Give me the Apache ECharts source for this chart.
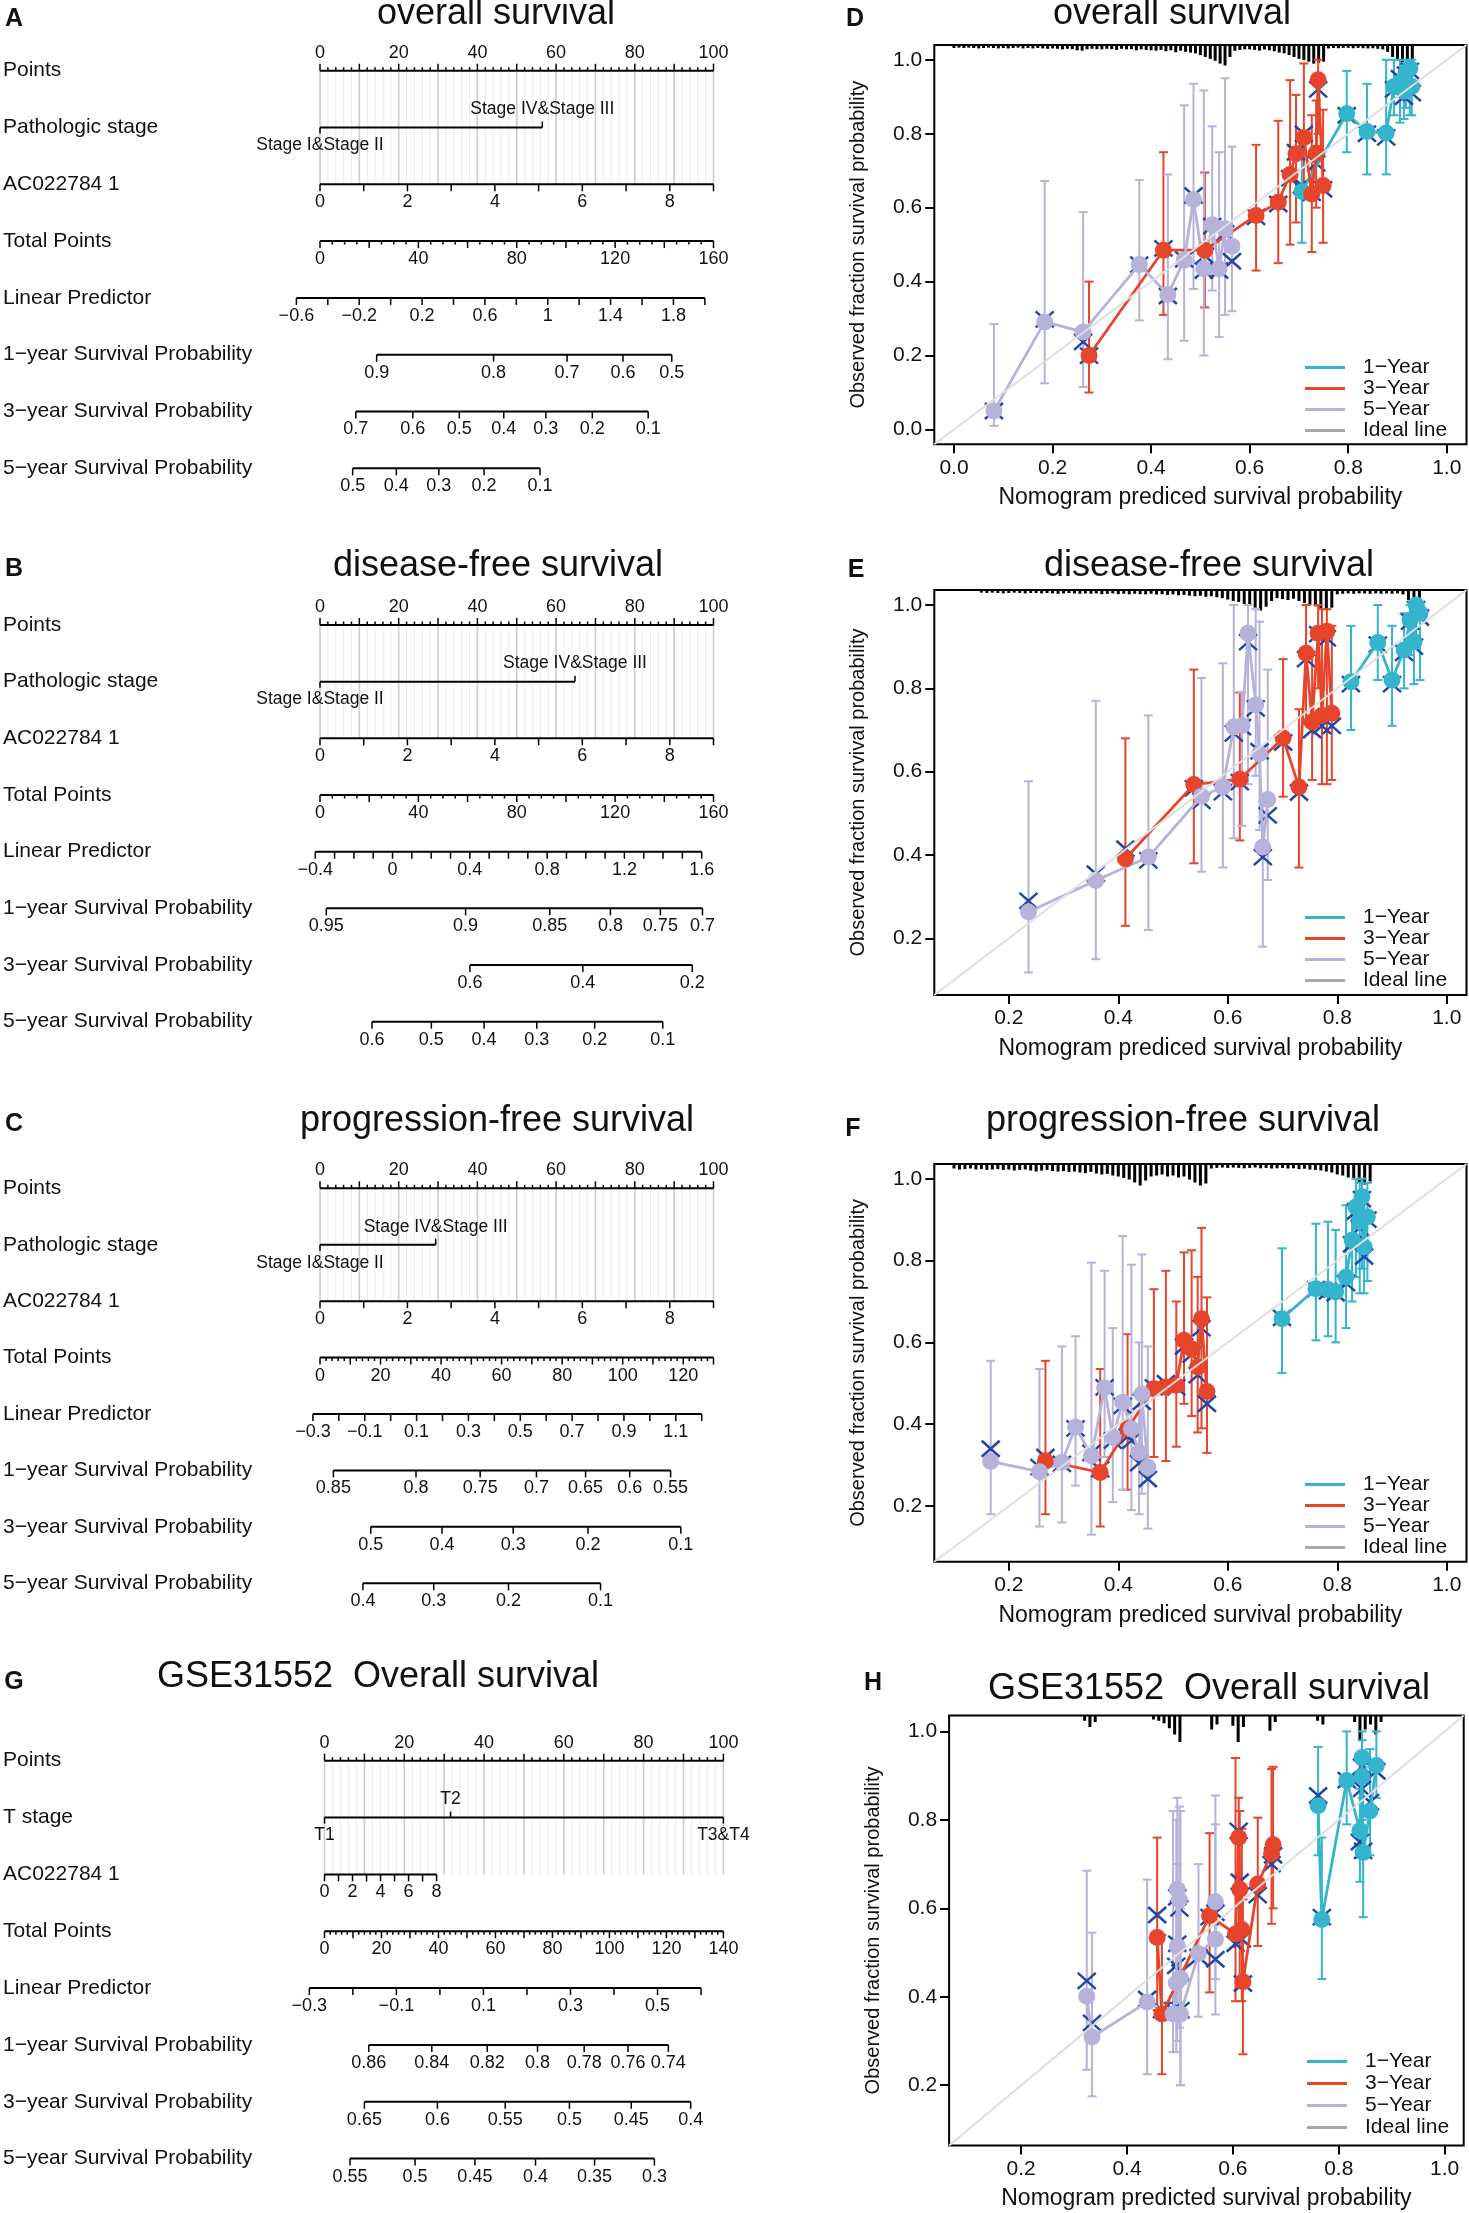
<!DOCTYPE html>
<html>
<head>
<meta charset="utf-8">
<title>Nomograms and calibration curves</title>
<script src="https://cdn.jsdelivr.net/npm/echarts@6.0.0/dist/echarts.min.js"></script>
<style>
  html, body { margin: 0; padding: 0; background: #fff; }
  #main { width: 1469px; height: 2213px; }
</style>
</head>
<body>
<div id="main"></div>
<script>
const FONT = '"Liberation Sans", Arial, Helvetica, sans-serif';
const MINUS = '\u2212';

// ---------------- nomogram data (positions in "Points" units) ----------------
const rowNames = ['Points', 'Pathologic stage', 'AC022784 1', 'Total Points', 'Linear Predictor',
  '1' + MINUS + 'year Survival Probability', '3' + MINUS + 'year Survival Probability',
  '5' + MINUS + 'year Survival Probability'];
const rowNamesG = ['Points', 'T stage'].concat(rowNames.slice(2));

// A: overall survival
const aStageLabels = ['Stage I&Stage II', 'Stage IV&Stage III'];
const aStagePoints = [0, 56.5];
const aStageAbove = [false, true];
const aLpRange = [-0.6, 2.0];
const aLpPoints = [-6.0, 97.8];
const a1yLabels = [0.9, 0.8, 0.7, 0.6, 0.5];
const a1yPoints = [14.4, 44.1, 62.8, 77.0, 89.4];
const a3yLabels = [0.7, 0.6, 0.5, 0.4, 0.3, 0.2, 0.1];
const a3yPoints = [9.1, 23.6, 35.4, 46.7, 57.4, 69.2, 83.4];
const a5yLabels = [0.5, 0.4, 0.3, 0.2, 0.1];
const a5yPoints = [8.3, 19.4, 30.2, 41.7, 55.9];

// B: disease-free survival
const bStageLabels = ['Stage I&Stage II', 'Stage IV&Stage III'];
const bStagePoints = [0, 64.8];
const bStageAbove = [false, true];
const bLpRange = [-0.4, 1.6];
const bLpPoints = [-1.2, 97.0];
const b1yLabels = [0.95, 0.9, 0.85, 0.8, 0.75, 0.7];
const b1yPoints = [1.6, 37.0, 58.4, 73.8, 86.5, 97.2];
const b3yLabels = [0.6, 0.4, 0.2];
const b3yPoints = [38.1, 66.8, 94.6];
const b5yLabels = [0.6, 0.5, 0.4, 0.3, 0.2, 0.1];
const b5yPoints = [13.2, 28.3, 41.7, 55.1, 69.8, 87.1];

// C: progression-free survival
const cStageLabels = ['Stage I&Stage II', 'Stage IV&Stage III'];
const cStagePoints = [0, 29.4];
const cStageAbove = [false, true];
const cLpRange = [-0.3, 1.2];
const cLpPoints = [-1.8, 97.0];
const c1yLabels = [0.85, 0.8, 0.75, 0.7, 0.65, 0.6, 0.55];
const c1yPoints = [3.4, 24.4, 40.7, 55.0, 67.5, 78.7, 89.1];
const c3yLabels = [0.5, 0.4, 0.3, 0.2, 0.1];
const c3yPoints = [12.9, 31.0, 49.1, 68.1, 91.7];
const c5yLabels = [0.4, 0.3, 0.2, 0.1];
const c5yPoints = [10.9, 28.9, 47.9, 71.3];

// G: GSE31552 overall survival
const gStageLabels = ['T1', 'T2', 'T3&T4'];
const gStagePoints = [0, 31.6, 100];
const gStageAbove = [false, true, false];
const gAcRange = [0, 8];
const gAcPoints = [0, 28.1];
const gLpRange = [-0.3, 0.6];
const gLpPoints = [-3.8, 94.4];
const g1yLabels = [0.86, 0.84, 0.82, 0.8, 0.78, 0.76, 0.74];
const g1yPoints = [11.1, 26.9, 40.8, 53.4, 65.1, 76.1, 86.2];
const g3yLabels = [0.65, 0.6, 0.55, 0.5, 0.45, 0.4];
const g3yPoints = [10.0, 28.3, 45.3, 61.4, 76.9, 91.8];
const g5yLabels = [0.55, 0.5, 0.45, 0.4, 0.35, 0.3];
const g5yPoints = [6.4, 22.7, 37.7, 52.9, 67.7, 82.7];

// ---------------- calibration data ----------------
const dTicks = [0, 0.2, 0.4, 0.6, 0.8, 1.0];
const efhTicks = [0.2, 0.4, 0.6, 0.8, 1.0];

// D overall survival
const d1x = [0.706, 0.797, 0.838, 0.877, 0.893, 0.905, 0.913, 0.917, 0.925, 0.929];
const d1y = [0.644, 0.854, 0.806, 0.802, 0.928, 0.937, 0.915, 0.964, 0.977, 0.928];
const d1lo = [0.505, 0.75, 0.69, 0.69, 0.85, 0.83, 0.84, 0.87, 0.85, 0.85];
const d1hi = [0.76, 0.97, 0.935, 1.0, 1.0, 1.0, 0.99, 1.0, 1.0, 1.0];
const d1bc = [0.66, 0.85, 0.80, 0.79, 0.92, 0.95, 0.90, 0.96, 0.97, 0.91];
const d3x = [0.274, 0.425, 0.509, 0.613, 0.658, 0.682, 0.694, 0.710, 0.726, 0.735, 0.739, 0.749];
const d3y = [0.200, 0.485, 0.485, 0.579, 0.615, 0.690, 0.746, 0.790, 0.637, 0.748, 0.946, 0.660];
const d3lo = [0.10, 0.31, 0.33, 0.43, 0.45, 0.50, 0.56, 0.63, 0.48, 0.60, 0.80, 0.505];
const d3hi = [0.40, 0.75, 0.695, 0.77, 0.835, 0.945, 0.905, 0.99, 0.85, 0.89, 1.0, 0.865];
const d3bc = [0.20, 0.49, 0.47, 0.575, 0.61, 0.68, 0.75, 0.80, 0.64, 0.72, 0.92, 0.65];
const d5x = [0.081, 0.184, 0.262, 0.376, 0.434, 0.467, 0.486, 0.507, 0.524, 0.538, 0.550, 0.564];
const d5y = [0.050, 0.291, 0.264, 0.446, 0.365, 0.458, 0.622, 0.435, 0.554, 0.435, 0.543, 0.496];
const d5lo = [0.01, 0.125, 0.115, 0.295, 0.19, 0.24, 0.38, 0.20, 0.376, 0.25, 0.31, 0.32];
const d5hi = [0.285, 0.672, 0.588, 0.675, 0.69, 0.877, 0.935, 0.917, 0.82, 0.75, 0.95, 0.765];
const d5bc = [0.05, 0.298, 0.237, 0.446, 0.361, 0.46, 0.633, 0.43, 0.55, 0.43, 0.53, 0.455];
const dHistStart = 0.0;
const dHist = [
  .08, .06, .08, .06, .08, .1, .08, .06, .08, .1,
  .08, .1, .08, .06, .1, .08, .1, .08, .1, .12,
  .1, .12, .15, .12, .14, .2, .22, .15, .12, .14,
  .15, .12, .14, .18, .12, .15, .14, .2, .15, .18,
  .2, .22, .18, .25, .2, .3, .22, .28, .32, .36,
  .45, .55, .65, .75, .9, 1, .55, .22, .18, .15,
  .15, .18, .22, .16, .2, .25, .32, .36, .45, .55,
  .65, .72, .8, .9, .85, .8, .1, .08, .09, .07,
  .07, .09, .07, .09, .1, .09, .12, .15, .28, .55,
  .72, .82, .9, .72];

// E disease-free survival
const e1x = [0.825, 0.874, 0.900, 0.922, 0.933, 0.940, 0.944, 0.951];
const e1y = [0.816, 0.910, 0.820, 0.892, 0.964, 0.912, 1.0, 0.98];
const e1lo = [0.70, 0.82, 0.71, 0.80, 0.88, 0.81, 0.90, 0.82];
const e1hi = [0.95, 1.0, 0.95, 0.98, 1.0, 1.0, 1.0, 1.0];
const e1bc = [0.81, 0.905, 0.81, 0.885, 0.96, 0.90, 0.99, 0.97];
const e3x = [0.413, 0.538, 0.622, 0.701, 0.730, 0.743, 0.754, 0.765, 0.772, 0.781, 0.790];
const e3y = [0.391, 0.569, 0.582, 0.681, 0.563, 0.884, 0.719, 0.932, 0.735, 0.937, 0.740];
const e3lo = [0.23, 0.38, 0.435, 0.54, 0.37, 0.72, 0.58, 0.80, 0.57, 0.57, 0.58];
const e3hi = [0.68, 0.845, 0.79, 0.87, 0.75, 1.0, 0.88, 1.0, 0.99, 0.99, 0.95];
const e3bc = [0.415, 0.56, 0.575, 0.67, 0.55, 0.87, 0.70, 0.93, 0.71, 0.92, 0.71];
const e5x = [0.236, 0.359, 0.455, 0.552, 0.591, 0.611, 0.626, 0.637, 0.651, 0.658, 0.664, 0.673];
const e5y = [0.263, 0.339, 0.395, 0.541, 0.563, 0.707, 0.711, 0.932, 0.760, 0.643, 0.419, 0.533];
const e5lo = [0.118, 0.15, 0.22, 0.36, 0.37, 0.44, 0.47, 0.57, 0.59, 0.46, 0.18, 0.34];
const e5hi = [0.577, 0.77, 0.735, 0.825, 0.86, 1.0, 0.79, 1.0, 0.99, 0.96, 0.53, 0.845];
const e5bc = [0.29, 0.355, 0.387, 0.53, 0.551, 0.692, 0.707, 0.911, 0.752, 0.649, 0.395, 0.495];
const eHistStart = 0.15;
const eHist = [
  .06, .08, .06, .08, .1, .08, .06, .08, .1, .08,
  .08, .1, .08, .1, .12, .1, .08, .1, .12, .1,
  .12, .1, .14, .12, .1, .14, .12, .15, .12, .14,
  .15, .12, .16, .14, .18, .15, .2, .18, .22, .25,
  .22, .28, .25, .3, .35, .42, .5, .55, .65, .72,
  .85, 1, .8, .5, .35, .4, .45, .38, .5, .6,
  .7, .78, .9, .95, .85, .15, .12, .1, .12, .1,
  .1, .12, .1, .12, .1, .12, .1, .15, .45, .6, .5];

// F progression-free survival
const f1x = [0.699, 0.761, 0.783, 0.797, 0.816, 0.827, 0.834, 0.841, 0.845, 0.849, 0.855];
const f1y = [0.658, 0.731, 0.729, 0.723, 0.760, 0.850, 0.931, 0.895, 0.956, 0.833, 0.907];
const f1lo = [0.525, 0.605, 0.615, 0.60, 0.635, 0.70, 0.76, 0.72, 0.78, 0.72, 0.75];
const f1hi = [0.83, 0.89, 0.895, 0.875, 0.935, 0.94, 1.0, 0.99, 1.0, 0.96, 0.99];
const f1bc = [0.66, 0.73, 0.725, 0.72, 0.745, 0.84, 0.92, 0.88, 0.95, 0.81, 0.90];
const f3x = [0.267, 0.367, 0.417, 0.465, 0.487, 0.506, 0.520, 0.534, 0.545, 0.552, 0.562];
const f3y = [0.311, 0.282, 0.389, 0.487, 0.491, 0.495, 0.605, 0.584, 0.540, 0.658, 0.480];
const f3lo = [0.18, 0.15, 0.24, 0.32, 0.31, 0.345, 0.45, 0.42, 0.38, 0.39, 0.33];
const f3hi = [0.555, 0.535, 0.62, 0.73, 0.775, 0.70, 0.82, 0.825, 0.76, 0.88, 0.71];
const f3bc = [0.32, 0.29, 0.37, 0.49, 0.50, 0.49, 0.59, 0.57, 0.52, 0.635, 0.45];
const f5x = [0.167, 0.256, 0.297, 0.322, 0.351, 0.375, 0.390, 0.408, 0.424, 0.438, 0.443, 0.454];
const f5y = [0.309, 0.284, 0.307, 0.393, 0.323, 0.489, 0.368, 0.454, 0.389, 0.331, 0.474, 0.295];
const f5lo = [0.18, 0.15, 0.16, 0.25, 0.13, 0.32, 0.21, 0.24, 0.19, 0.18, 0.23, 0.145];
const f5hi = [0.555, 0.535, 0.59, 0.615, 0.795, 0.775, 0.635, 0.86, 0.79, 0.60, 0.815, 0.59];
const f5bc = [0.34, 0.295, 0.303, 0.39, 0.33, 0.49, 0.36, 0.445, 0.36, 0.305, 0.455, 0.266];
const fHistStart = 0.10;
const fHist = [
  .15, .2, .18, .15, .2, .18, .22, .2, .18, .22,
  .2, .25, .22, .2, .25, .3, .25, .22, .28, .3,
  .28, .32, .3, .35, .38, .32, .4, .45, .42, .5,
  .55, .62, .7, .85, 1, .75, .55, .5, .45, .55,
  .5, .6, .55, .7, .85, 1, .9, .15, .12, .1,
  .12, .1, .12, .14, .12, .1, .14, .12, .15, .14,
  .12, .15, .14, .18, .16, .2, .22, .25, .3, .35,
  .45, .5, .6, .7, .85, .95, .8];

// H GSE31552 overall survival
const h1x = [0.761, 0.768, 0.815, 0.840, 0.844, 0.844, 0.846, 0.859, 0.871];
const h1y = [0.832, 0.575, 0.889, 0.776, 0.941, 0.898, 0.726, 0.820, 0.923];
const h1lo = [0.72, 0.44, 0.79, 0.66, 0.85, 0.80, 0.58, 0.72, 0.85];
const h1hi = [0.965, 0.76, 1.0, 0.87, 1.0, 0.98, 0.92, 0.96, 1.0];
const h1bc = [0.855, 0.58, 0.89, 0.75, 0.92, 0.87, 0.73, 0.84, 0.91];
const h3x = [0.457, 0.466, 0.556, 0.605, 0.611, 0.613, 0.617, 0.619, 0.647, 0.673, 0.676];
const h3y = [0.534, 0.361, 0.583, 0.542, 0.760, 0.643, 0.552, 0.434, 0.655, 0.724, 0.744];
const h3lo = [0.37, 0.225, 0.41, 0.39, 0.55, 0.44, 0.39, 0.27, 0.515, 0.565, 0.60];
const h3hi = [0.76, 0.54, 0.77, 0.94, 0.85, 0.82, 0.78, 0.62, 0.805, 0.915, 0.92];
const h3bc = [0.585, 0.37, 0.58, 0.52, 0.775, 0.66, 0.53, 0.43, 0.63, 0.70, 0.72];
const h5x = [0.324, 0.334, 0.438, 0.487, 0.493, 0.495, 0.495, 0.499, 0.501, 0.501, 0.535, 0.567, 0.567];
const h5y = [0.401, 0.309, 0.388, 0.361, 0.431, 0.643, 0.514, 0.619, 0.442, 0.361, 0.498, 0.530, 0.615];
const h5lo = [0.235, 0.175, 0.225, 0.275, 0.275, 0.35, 0.30, 0.33, 0.20, 0.20, 0.355, 0.36, 0.44];
const h5hi = [0.685, 0.545, 0.665, 0.82, 0.80, 0.85, 0.70, 0.83, 0.82, 0.60, 0.70, 0.79, 0.855];
const h5bc = [0.436, 0.341, 0.395, 0.37, 0.47, 0.625, 0.52, 0.60, 0.455, 0.37, 0.49, 0.485, 0.59];
const hHistStart = 0.30;
const hHist = [
  0, 0, .15, .4, .2, 0, 0, 0, 0, 0,
  0, 0, 0, 0, 0, .1, .15, .25, .45, .7,
  1, 0, 0, 0, 0, 0, .5, .3, 0, 0,
  .35, 1, .4, 0, 0, 0, 0, .55, .2, 0,
  0, 0, 0, 0, 0, 0, .15, .3, 0, 0,
  0, 0, 0, .2, .95, .5, .3, .7, .2];

// ---------------- helpers ----------------
const isInt = v => Math.abs(v - Math.round(v)) < 1e-6;
const fmt = v => String(Math.round(v * 1000) / 1000).replace('-', MINUS);

function makeRows(o) {
  return [
    { kind: 'scale', min: 0, max: 100, p: [0, 100], minor: 2, major: 10, from: 0, step: 20, up: true, grid: true },
    { kind: 'cat', labels: o.catLabels, points: o.catPoints, above: o.catAbove },
    { kind: 'scale', min: o.ac[0], max: o.ac[1], p: o.acP, minor: 1, major: 1, from: 0, step: 2 },
    { kind: 'scale', min: 0, max: o.total, p: [0, 100], minor: o.totalMinor, major: o.totalMajor, from: 0, step: o.totalStep },
    { kind: 'scale', min: o.lp[0], max: o.lp[1], p: o.lpP, minor: o.lpMinor, major: o.lpMinor, from: o.lp[0], step: o.lpStep },
    { kind: 'prob', labels: o.y1, points: o.y1P },
    { kind: 'prob', labels: o.y3, points: o.y3P },
    { kind: 'prob', labels: o.y5, points: o.y5P }
  ];
}

function nomoRender(rows) {
  return function (params, api) {
    const i = params.dataIndex;
    const r = rows[i];
    const y = api.coord([0, i])[1];
    const X = p => api.coord([p, i])[0];
    const kids = [];
    const line = (x1, y1, x2, y2, stroke, w) =>
      kids.push({ type: 'line', shape: { x1, y1, x2, y2 }, style: { stroke, lineWidth: w } });
    const text = (x, ty, s, size) =>
      kids.push({ type: 'text', x, y: ty, style: { text: s, fill: '#111', fontSize: size, fontFamily: FONT, align: 'center', verticalAlign: 'middle' } });

    if (r.kind === 'scale') {
      const n = Math.round((r.max - r.min) / r.minor);
      const ticks = [];
      for (let k = 0; k <= n; k++) {
        const v = r.min + k * r.minor;
        const p = r.p[0] + (v - r.min) / (r.max - r.min) * (r.p[1] - r.p[0]);
        ticks.push({ x: X(p), v, major: isInt((v - r.from) / r.major), lab: isInt((v - r.from) / r.step) });
      }
      if (r.grid) {
        const yb = api.coord([0, 2])[1];
        ticks.forEach(t => { if (!t.major) line(t.x, y, t.x, yb, '#ebebeb', 1); });
        ticks.forEach(t => { if (t.major) line(t.x, y, t.x, yb, '#cdcdcd', 1.6); });
      }
      line(X(r.p[0]), y, X(r.p[1]), y, '#000', 2);
      const dir = r.up ? -1 : 1;
      ticks.forEach(t => {
        line(t.x, y, t.x, y + dir * (t.major ? 7 : 3.5), '#000', 1.5);
        if (t.lab) text(t.x, y + dir * 18, fmt(t.v), 18);
      });
    } else if (r.kind === 'cat') {
      const xs = r.points.map(X);
      line(Math.min(...xs), y, Math.max(...xs), y, '#000', 2);
      r.labels.forEach((s, k) => {
        const dir = r.above[k] ? -1 : 1;
        line(xs[k], y, xs[k], y + dir * 6, '#000', 1.5);
        text(xs[k], y + dir * 18, s, 17.5);
      });
    } else {
      const xs = r.points.map(X);
      line(xs[0], y, xs[xs.length - 1], y, '#000', 2);
      xs.forEach((x, k) => {
        line(x, y, x, y + 7, '#000', 1.5);
        text(x, y + 18, fmt(r.labels[k]), 18);
      });
    }
    return { type: 'group', children: kids };
  };
}

const nomograms = [
  { grid: { left: 318, top: 70.7, width: 395.5, height: 397.6 }, names: rowNames,
    rows: makeRows({ catLabels: aStageLabels, catPoints: aStagePoints, catAbove: aStageAbove,
      ac: [0, 9], acP: [0, 100], total: 160, totalMinor: 5, totalMajor: 20, totalStep: 40,
      lp: aLpRange, lpP: aLpPoints, lpMinor: 0.2, lpStep: 0.4,
      y1: a1yLabels, y1P: a1yPoints, y3: a3yLabels, y3P: a3yPoints, y5: a5yLabels, y5P: a5yPoints }) },
  { grid: { left: 318, top: 625, width: 395.5, height: 396.7 }, names: rowNames,
    rows: makeRows({ catLabels: bStageLabels, catPoints: bStagePoints, catAbove: bStageAbove,
      ac: [0, 9], acP: [0, 100], total: 160, totalMinor: 5, totalMajor: 20, totalStep: 40,
      lp: bLpRange, lpP: bLpPoints, lpMinor: 0.1, lpStep: 0.4,
      y1: b1yLabels, y1P: b1yPoints, y3: b3yLabels, y3P: b3yPoints, y5: b5yLabels, y5P: b5yPoints }) },
  { grid: { left: 318, top: 1188.3, width: 395.5, height: 395 }, names: rowNames,
    rows: makeRows({ catLabels: cStageLabels, catPoints: cStagePoints, catAbove: cStageAbove,
      ac: [0, 9], acP: [0, 100], total: 130, totalMinor: 2, totalMajor: 10, totalStep: 20,
      lp: cLpRange, lpP: cLpPoints, lpMinor: 0.1, lpStep: 0.2,
      y1: c1yLabels, y1P: c1yPoints, y3: c3yLabels, y3P: c3yPoints, y5: c5yLabels, y5P: c5yPoints }) },
  { grid: { left: 322.5, top: 1760.7, width: 400.9, height: 397.9 }, names: rowNamesG,
    rows: makeRows({ catLabels: gStageLabels, catPoints: gStagePoints, catAbove: gStageAbove,
      ac: gAcRange, acP: gAcPoints, total: 140, totalMinor: 2, totalMajor: 10, totalStep: 20,
      lp: gLpRange, lpP: gLpPoints, lpMinor: 0.1, lpStep: 0.2,
      y1: g1yLabels, y1P: g1yPoints, y3: g3yLabels, y3P: g3yPoints, y5: g5yLabels, y5P: g5yPoints }) }
];

const C1 = '#35b4cd', C3 = '#e6452b', C5 = '#b6b2da', CX = '#2346a6';
const grp = (name, color, x, y, lo, hi, bc) => ({ name, color, x, y, lo, hi, bc });
const Y1 = '1' + MINUS + 'Year', Y3 = '3' + MINUS + 'Year', Y5 = '5' + MINUS + 'Year';
const LIM_D = [-0.04, 1.04], LIM = [0.064, 1.036];

const calibs = [
  { grid: { left: 934.3, top: 45, width: 532.2, height: 399.3 }, lim: LIM_D, ticks: dTicks,
    xName: 'Nomogram prediced survival probability', hist: dHist, histStart: dHistStart, histLen: 19,
    legend: { left: 1305, top: 357, gap: 0 },
    groups: [grp(Y1, C1, d1x, d1y, d1lo, d1hi, d1bc), grp(Y3, C3, d3x, d3y, d3lo, d3hi, d3bc), grp(Y5, C5, d5x, d5y, d5lo, d5hi, d5bc)] },
  { grid: { left: 934.3, top: 590, width: 532.2, height: 405 }, lim: LIM, ticks: efhTicks,
    xName: 'Nomogram prediced survival probability', hist: eHist, histStart: eHistStart, histLen: 19,
    legend: { left: 1305, top: 907, gap: 0 },
    groups: [grp(Y1, C1, e1x, e1y, e1lo, e1hi, e1bc), grp(Y3, C3, e3x, e3y, e3lo, e3hi, e3bc), grp(Y5, C5, e5x, e5y, e5lo, e5hi, e5bc)] },
  { grid: { left: 934.3, top: 1164, width: 532.2, height: 397.7 }, lim: LIM, ticks: efhTicks,
    xName: 'Nomogram prediced survival probability', hist: fHist, histStart: fHistStart, histLen: 20,
    legend: { left: 1305, top: 1474, gap: 0 },
    groups: [grp(Y1, C1, f1x, f1y, f1lo, f1hi, f1bc), grp(Y3, C3, f3x, f3y, f3lo, f3hi, f3bc), grp(Y5, C5, f5x, f5y, f5lo, f5hi, f5bc)] },
  { grid: { left: 949.1, top: 1715.5, width: 514.6, height: 429.9 }, lim: LIM, ticks: efhTicks,
    xName: 'Nomogram predicted survival probability', hist: hHist, histStart: hHistStart, histLen: 25,
    legend: { left: 1307, top: 2051, gap: 1 },
    groups: [grp(Y1, C1, h1x, h1y, h1lo, h1hi, h1bc), grp(Y3, C3, h3x, h3y, h3lo, h3hi, h3bc), grp(Y5, C5, h5x, h5y, h5lo, h5hi, h5bc)] }
];

// ---------------- build option ----------------
const grids = [], xAxes = [], yAxes = [], series = [], legends = [];

nomograms.forEach(nm => {
  const gi = grids.length;
  grids.push(Object.assign({ show: false }, nm.grid));
  xAxes.push({ gridIndex: gi, type: 'value', min: 0, max: 100, show: false });
  yAxes.push({ gridIndex: gi, type: 'category', data: nm.names, inverse: true, boundaryGap: false,
    axisLine: { show: false }, axisTick: { show: false }, splitLine: { show: false },
    axisLabel: { interval: 0, align: 'left', margin: nm.grid.left - 1, fontSize: 21, color: '#111', fontFamily: FONT } });
  series.push({ type: 'custom', coordinateSystem: 'cartesian2d', xAxisIndex: gi, yAxisIndex: gi, clip: false, silent: true,
    data: nm.rows.map((r, k) => [50, k]), encode: { x: 0, y: 1 }, renderItem: nomoRender(nm.rows) });
});

calibs.forEach(cp => {
  const gi = grids.length;
  grids.push(Object.assign({ show: true, borderColor: '#000', borderWidth: 2, backgroundColor: '#fff' }, cp.grid));
  const tickCommon = { show: true, customValues: cp.ticks, length: 9, lineStyle: { color: '#000', width: 2 } };
  const labelCommon = { customValues: cp.ticks, formatter: v => v.toFixed(1), fontSize: 21, color: '#111', fontFamily: FONT };
  xAxes.push({ gridIndex: gi, type: 'value', min: cp.lim[0], max: cp.lim[1],
    axisLine: { show: false, onZero: false }, splitLine: { show: false }, axisTick: tickCommon,
    axisLabel: Object.assign({ margin: 13 }, labelCommon),
    name: cp.xName, nameLocation: 'middle', nameGap: 42,
    nameTextStyle: { fontSize: 23, color: '#111', fontFamily: FONT } });
  yAxes.push({ gridIndex: gi, type: 'value', min: cp.lim[0], max: cp.lim[1],
    axisLine: { show: false, onZero: false }, splitLine: { show: false }, axisTick: tickCommon,
    axisLabel: Object.assign({ margin: 12 }, labelCommon),
    name: 'Observed fraction survival probability', nameLocation: 'middle', nameGap: 66,
    nameTextStyle: { fontSize: 20, color: '#111', fontFamily: FONT } });

  const ax = { xAxisIndex: gi, yAxisIndex: gi };
  // distribution of predictions along the top edge
  const top = cp.lim[1], len = cp.histLen;
  series.push(Object.assign({ type: 'custom', coordinateSystem: 'cartesian2d', silent: true, z: 2,
    data: cp.hist.map((h, k) => [Math.round((cp.histStart + k * 0.01) * 1000) / 1000, h]), encode: { x: 0, y: 1 },
    renderItem: (params, api) => {
      const h = api.value(1);
      if (!h) return null;
      const p = api.coord([api.value(0), top]);
      return { type: 'line', shape: { x1: p[0], y1: p[1], x2: p[0], y2: p[1] + 1.5 + h * len },
        style: { stroke: '#000', lineWidth: 3 } };
    } }, ax));
  cp.groups.forEach(g => {
    // error bars
    series.push(Object.assign({ type: 'custom', coordinateSystem: 'cartesian2d', silent: true, z: 3,
      data: g.x.map((v, k) => [v, g.lo[k], g.hi[k]]), encode: { x: 0, y: [1, 2] },
      renderItem: (params, api) => {
        const a = api.coord([api.value(0), api.value(1)]);
        const b = api.coord([api.value(0), api.value(2)]);
        const st = { stroke: g.color, lineWidth: 2 };
        return { type: 'group', children: [
          { type: 'line', shape: { x1: a[0], y1: a[1], x2: b[0], y2: b[1] }, style: st },
          { type: 'line', shape: { x1: a[0] - 4.5, y1: a[1], x2: a[0] + 4.5, y2: a[1] }, style: st },
          { type: 'line', shape: { x1: b[0] - 4.5, y1: b[1], x2: b[0] + 4.5, y2: b[1] }, style: st }
        ] };
      } }, ax));
    // bias-corrected estimates (blue crosses)
    series.push(Object.assign({ type: 'custom', coordinateSystem: 'cartesian2d', silent: true, z: 4,
      data: g.x.map((v, k) => [v, g.bc[k]]), encode: { x: 0, y: 1 },
      renderItem: (params, api) => {
        const c = api.coord([api.value(0), api.value(1)]);
        const st = { stroke: CX, lineWidth: 2.5 };
        return { type: 'group', children: [
          { type: 'line', shape: { x1: c[0] - 9, y1: c[1] - 8, x2: c[0] + 9, y2: c[1] + 8 }, style: st },
          { type: 'line', shape: { x1: c[0] - 9, y1: c[1] + 8, x2: c[0] + 9, y2: c[1] - 8 }, style: st }
        ] };
      } }, ax));
    // apparent calibration line with points
    series.push(Object.assign({ type: 'line', name: g.name, data: g.x.map((v, k) => [v, g.y[k]]),
      symbol: 'circle', symbolSize: 17, itemStyle: { color: g.color }, lineStyle: { color: g.color, width: 2.8 },
      z: 5, silent: true }, ax));
  });
  // ideal line, drawn over the curves as in the original
  series.push(Object.assign({ type: 'line', name: 'Ideal line', data: [[cp.lim[0], cp.lim[0]], [cp.lim[1], cp.lim[1]]],
    symbol: 'none', lineStyle: { color: '#dedede', width: 2 }, z: 6, silent: true }, ax));

  legends.push({ orient: 'vertical', left: cp.legend.left, top: cp.legend.top, padding: 0, itemGap: cp.legend.gap,
    itemWidth: 40, itemHeight: 3, selectedMode: false,
    textStyle: { fontSize: 21, lineHeight: 20, color: '#111', fontFamily: FONT, padding: [0, 0, 0, 13] },
    data: [
      { name: Y1, icon: 'rect', itemStyle: { color: C1 } },
      { name: Y3, icon: 'rect', itemStyle: { color: C3 } },
      { name: Y5, icon: 'rect', itemStyle: { color: C5 } },
      { name: 'Ideal line', icon: 'rect', itemStyle: { color: '#a8a8a8' } }
    ] });
});

// titles and panel letters
const titles = [
  ['overall survival', 496, 14], ['overall survival', 1172, 14],
  ['disease-free survival', 498, 566], ['disease-free survival', 1209, 566],
  ['progression-free survival', 497, 1121], ['progression-free survival', 1183, 1121],
  ['GSE31552  Overall survival', 378, 1677], ['GSE31552  Overall survival', 1209, 1689]
];
const letters = [['A', 14, 19], ['D', 855, 19], ['B', 14, 569], ['E', 856, 570],
  ['C', 14, 1124], ['F', 853, 1129], ['G', 14, 1682], ['H', 873, 1683]];
const graphics = titles.map(t => ({ type: 'text', x: t[1], y: t[2], silent: true,
  style: { text: t[0], fontSize: 36, fontFamily: FONT, fill: '#111', align: 'center', verticalAlign: 'middle' } }))
  .concat(letters.map(t => ({ type: 'text', x: t[1], y: t[2], silent: true,
    style: { text: t[0], fontSize: 25, fontWeight: 'bold', fontFamily: FONT, fill: '#111', align: 'center', verticalAlign: 'middle' } })));

const chart = echarts.init(document.getElementById('main'), null, { renderer: 'canvas' });
chart.setOption({
  backgroundColor: '#fff',
  animation: false,
  textStyle: { fontFamily: FONT },
  grid: grids,
  xAxis: xAxes,
  yAxis: yAxes,
  legend: legends,
  graphic: graphics,
  series: series
});
</script>
</body>
</html>
